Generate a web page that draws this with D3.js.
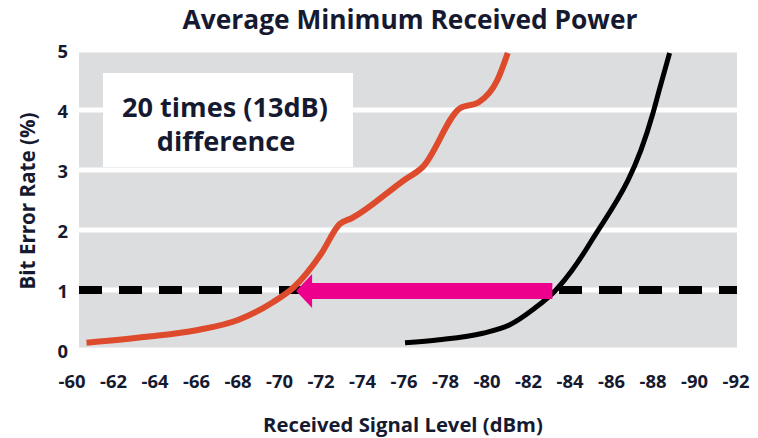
<!DOCTYPE html>
<html>
<head>
<meta charset="utf-8">
<script src="https://cdn.jsdelivr.net/npm/d3@7"></script>
<style>
  body { margin: 0; background: #fff; }
  text { font-family: "Open Sans", Lato, sans-serif; font-weight: 700; fill: #161a30; }
</style>
</head>
<body>
<svg id="chart" width="758" height="438"></svg>
<script>
// data
const xTicks = [-60, -62, -64, -66, -68, -70, -72, -74, -76, -78, -80, -82, -84, -86, -88, -90, -92];
const yTicks = [0, 1, 2, 3, 4, 5];

const redLevel = [-60.7, -63.6, -66, -68, -69.7, -70.7, -72, -72.9, -73.5, -76, -76.9, -78.7, -79.6, -80.5, -81];
const redBer   = [0.12, 0.22, 0.33, 0.5, 0.8, 1.05, 1.6, 2.1, 2.2, 2.83, 3.05, 4.03, 4.13, 4.5, 4.95];

const blackLevel = [-76.05, -77.7, -79.8, -81.1, -82.2, -83.4, -84.1, -85, -88, -88.3, -88.8];
const blackBer   = [0.12, 0.17, 0.28, 0.42, 0.67, 1.03, 1.33, 1.8, 3.95, 4.33, 4.95];

const boxLines = ["20 times (13dB)", "difference"];
const threshold = 1;
const arrowFrom = -83.15, arrowTo = -70.8;

const svg = d3.select("#chart");

const x = d3.scaleLinear().domain([-60, -92]).range([72, 736]);
const y = d3.scaleLinear().domain([0, 5]).range([350, 50]);

// scale a text so its width matches the reference
function fit(sel, w) {
  const fs = parseFloat(sel.style("font-size"));
  sel.style("font-size", (fs * w / sel.node().getComputedTextLength()) + "px");
  return sel;
}

// gray bands with white gaps at each grid value
const bandLeft = 79, bandRight = 737;
svg.selectAll("rect.band")
  .data(yTicks.slice(0, -1))
  .enter().append("rect")
  .attr("class", "band")
  .attr("x", bandLeft)
  .attr("width", bandRight - bandLeft)
  .attr("y", d => y(d + 1) + 2.5)
  .attr("height", d => y(d) - y(d + 1) - 5)
  .attr("fill", "#dcdddf");

// annotation box
svg.append("rect")
  .attr("x", 103).attr("y", 73)
  .attr("width", 250).attr("height", 94)
  .attr("fill", "#fff");

const note = svg.append("text")
  .attr("text-anchor", "middle")
  .style("font-size", "26px");
note.append("tspan").attr("x", 225).attr("y", 117).text(boxLines[0]);
note.append("tspan").attr("x", 226).attr("y", 151).text(boxLines[1]);
const w0 = note.select("tspan").node().getComputedTextLength();
note.style("font-size", (26 * 206 / w0) + "px");

// threshold line
svg.append("line")
  .attr("x1", bandLeft).attr("x2", bandRight)
  .attr("y1", y(threshold)).attr("y2", y(threshold))
  .attr("stroke", "#000")
  .attr("stroke-width", 8)
  .attr("stroke-dasharray", "23,17");

const line = d3.line()
  .x(d => x(d[0]))
  .y(d => y(d[1]))
  .curve(d3.curveMonotoneX);

svg.append("path")
  .datum(d3.zip(redLevel, redBer))
  .attr("d", line)
  .attr("fill", "none")
  .attr("stroke", "#de4a2c")
  .attr("stroke-width", 6);

svg.append("path")
  .datum(d3.zip(blackLevel, blackBer))
  .attr("d", line)
  .attr("fill", "none")
  .attr("stroke", "#000")
  .attr("stroke-width", 5);

// pink arrow
const ay = y(threshold) + 1;
const x0 = x(arrowFrom), x1 = x(arrowTo);
svg.append("path")
  .attr("d", `M${x0},${ay - 8} L${x1 + 16},${ay - 8} L${x1 + 16},${ay - 17} L${x1},${ay} L${x1 + 16},${ay + 17} L${x1 + 16},${ay + 8} L${x0},${ay + 8} Z`)
  .attr("fill", "#ec008c");

// tick labels
const xt = svg.selectAll("text.xt")
  .data(xTicks)
  .enter().append("text")
  .attr("class", "xt")
  .attr("x", d => x(d))
  .attr("y", 388)
  .attr("text-anchor", "middle")
  .style("font-size", "15px")
  .text(d => d);
fit(xt.filter((d, i) => i === 0), 27);
xt.style("font-size", xt.filter((d, i) => i === 0).style("font-size"));

svg.selectAll("text.yt")
  .data(yTicks)
  .enter().append("text")
  .attr("class", "yt")
  .attr("x", 68)
  .attr("y", d => y(d) + 8)
  .attr("text-anchor", "end")
  .style("font-size", xt.style("font-size"))
  .text(d => d);

// titles
fit(svg.append("text")
  .attr("x", 410).attr("y", 29)
  .attr("text-anchor", "middle")
  .style("font-size", "23px")
  .text("Average Minimum Received Power"), 455);

fit(svg.append("text")
  .attr("x", 403).attr("y", 432)
  .attr("text-anchor", "middle")
  .style("font-size", "17px")
  .text("Received Signal Level (dBm)"), 280);

fit(svg.append("text")
  .attr("transform", "translate(35,201) rotate(-90)")
  .attr("text-anchor", "middle")
  .style("font-size", "17px")
  .text("Bit Error Rate (%)"), 177);
</script>
</body>
</html>
